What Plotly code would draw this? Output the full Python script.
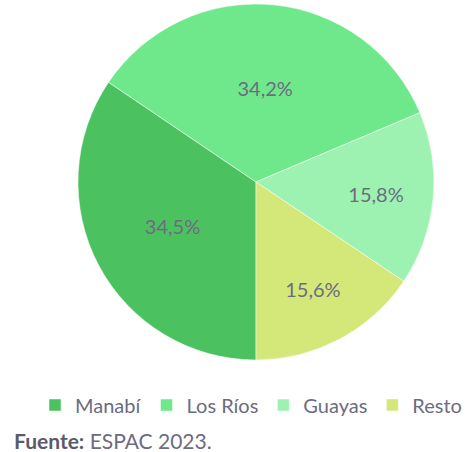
import plotly.graph_objects as go

labels = ["Manabí", "Los Ríos", "Guayas", "Resto"]
values = [34.5, 34.2, 15.8, 15.6]
text_labels = ["34,5%", "34,2%", "15,8%", "15,6%"]
colors = ["#4CC160", "#6FE88B", "#9EF2B1", "#D4E87A"]

W, H = 467, 452
TXT = "#6C6C80"
fig = go.Figure(go.Pie(
    labels=labels, values=values, text=text_labels,
    textinfo="text", sort=False, direction="clockwise", rotation=180,
    marker=dict(colors=colors, line=dict(color="white", width=0.5)),
    textfont=dict(size=20, color=TXT, family="Lato"),
    insidetextorientation="horizontal",
    domain=dict(x=[78 / W, 434 / W], y=[1 - 360 / H, 1 - 4 / H]),
    hoverinfo="skip",
))
fig.update_layout(
    width=W, height=H, margin=dict(l=0, r=0, t=0, b=0),
    paper_bgcolor="white", plot_bgcolor="white",
    font=dict(family="Lato", color=TXT),
    legend=dict(orientation="h", xanchor="right", x=1.0, yanchor="middle", y=1 - 405 / H,
                font=dict(size=20, color=TXT), itemwidth=30, traceorder="normal"),
    annotations=[dict(x=12 / W, y=1 - 440 / H, xref="paper", yref="paper", xanchor="left", yanchor="middle",
                      text="<b style='color:#5A5A68'>Fuente:</b> ESPAC 2023.", showarrow=False,
                      font=dict(size=21, color=TXT, family="Lato"))],
)
fig.write_html("out.html", config={"displayModeBar": False},
               post_script="document.body.style.margin='0';document.body.style.padding='0';")
